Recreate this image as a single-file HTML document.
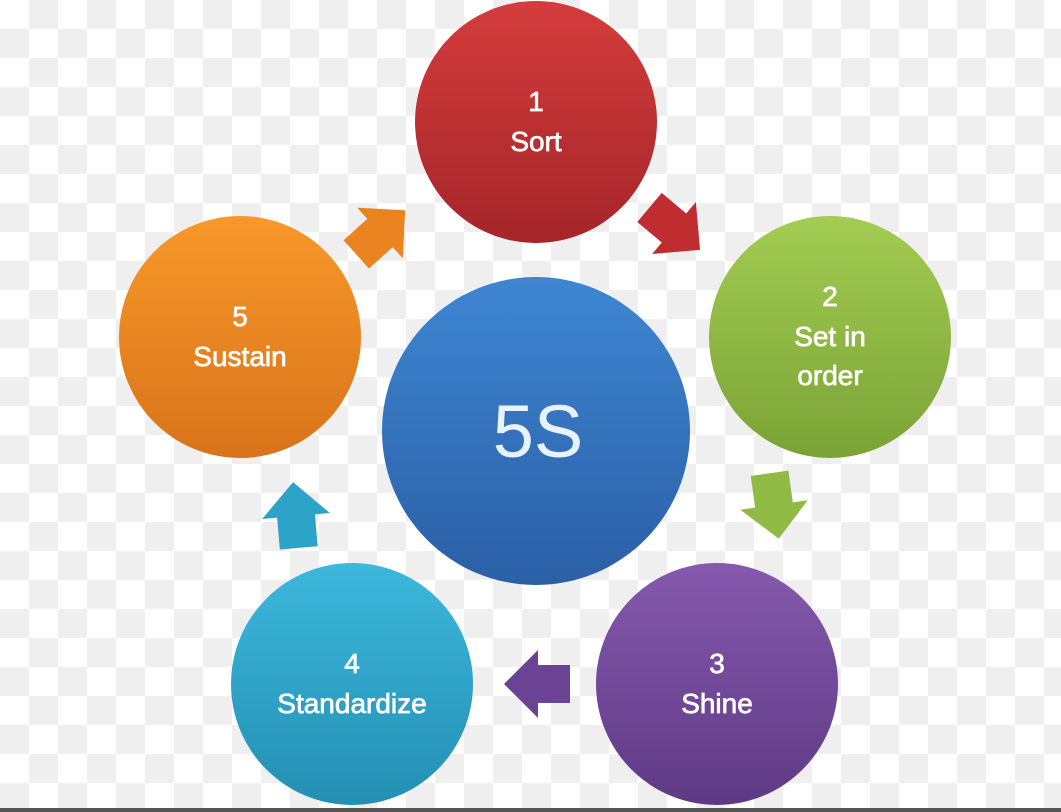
<!DOCTYPE html>
<html><head><style>
html,body{margin:0;padding:0}
body{width:1061px;height:812px;overflow:hidden;position:relative;
background:repeating-conic-gradient(#efefef 0 25%,#fff 0 50%) 0 0/58px 58px;}
svg{position:absolute;left:0;top:0}
text{font-family:"Liberation Sans",sans-serif;fill:#fff;text-anchor:middle}
</style></head><body>
<svg width="1061" height="812" viewBox="0 0 1061 812">
<defs>
<linearGradient id="r" x1="0" y1="0" x2="0" y2="1"><stop offset="0" stop-color="#d43c3c"/><stop offset="1" stop-color="#a52529"/></linearGradient>
<linearGradient id="g" x1="0" y1="0" x2="0" y2="1"><stop offset="0" stop-color="#a3cc52"/><stop offset="1" stop-color="#7aa336"/></linearGradient>
<linearGradient id="p" x1="0" y1="0" x2="0" y2="1"><stop offset="0" stop-color="#8559ad"/><stop offset="1" stop-color="#5e3a85"/></linearGradient>
<linearGradient id="b" x1="0" y1="0" x2="0" y2="1"><stop offset="0" stop-color="#3cb8dc"/><stop offset="1" stop-color="#238fb3"/></linearGradient>
<linearGradient id="o" x1="0" y1="0" x2="0" y2="1"><stop offset="0" stop-color="#f8982a"/><stop offset="1" stop-color="#d9731a"/></linearGradient>
<linearGradient id="c" x1="0" y1="0" x2="0" y2="1"><stop offset="0" stop-color="#3e86d2"/><stop offset="1" stop-color="#2b5fa6"/></linearGradient>
<polygon id="arr" points="-32,-19 0,-19 0,-34 34,0 0,34 0,19 -32,19"/>
</defs>
<rect x="0" y="808" width="1061" height="4" fill="#555"/>
<use href="#arr" fill="#c02d30" transform="translate(674,228) rotate(40)"/>
<use href="#arr" fill="#8fba43" transform="translate(774,505) rotate(82)"/>
<use href="#arr" fill="#6b4394" transform="translate(538,684) rotate(180)"/>
<use href="#arr" fill="#2ea3c8" transform="translate(296,516) rotate(-95)"/>
<use href="#arr" fill="#ea8320" transform="translate(380,233) rotate(-42)"/>
<circle cx="536" cy="122" r="121" fill="url(#r)"/>
<circle cx="830" cy="337" r="121" fill="url(#g)"/>
<circle cx="717" cy="684" r="121" fill="url(#p)"/>
<circle cx="352" cy="684" r="121" fill="url(#b)"/>
<circle cx="240" cy="337" r="121" fill="url(#o)"/>
<circle cx="536" cy="431" r="154" fill="url(#c)"/>
<g font-size="28" stroke="#fff" stroke-width="0.7">
<text x="536" y="111">1</text><text x="536" y="151">Sort</text>
<text x="830" y="306">2</text><text x="830" y="346">Set in</text><text x="830" y="385">order</text>
<text x="717" y="673">3</text><text x="717" y="713">Shine</text>
<text x="352" y="673">4</text><text x="352" y="713">Standardize</text>
<text x="240" y="326">5</text><text x="240" y="366">Sustain</text>
</g>
<text x="538" y="457" font-size="74" style="fill:#e8f2ff">5S</text>
</svg>
</body></html>
